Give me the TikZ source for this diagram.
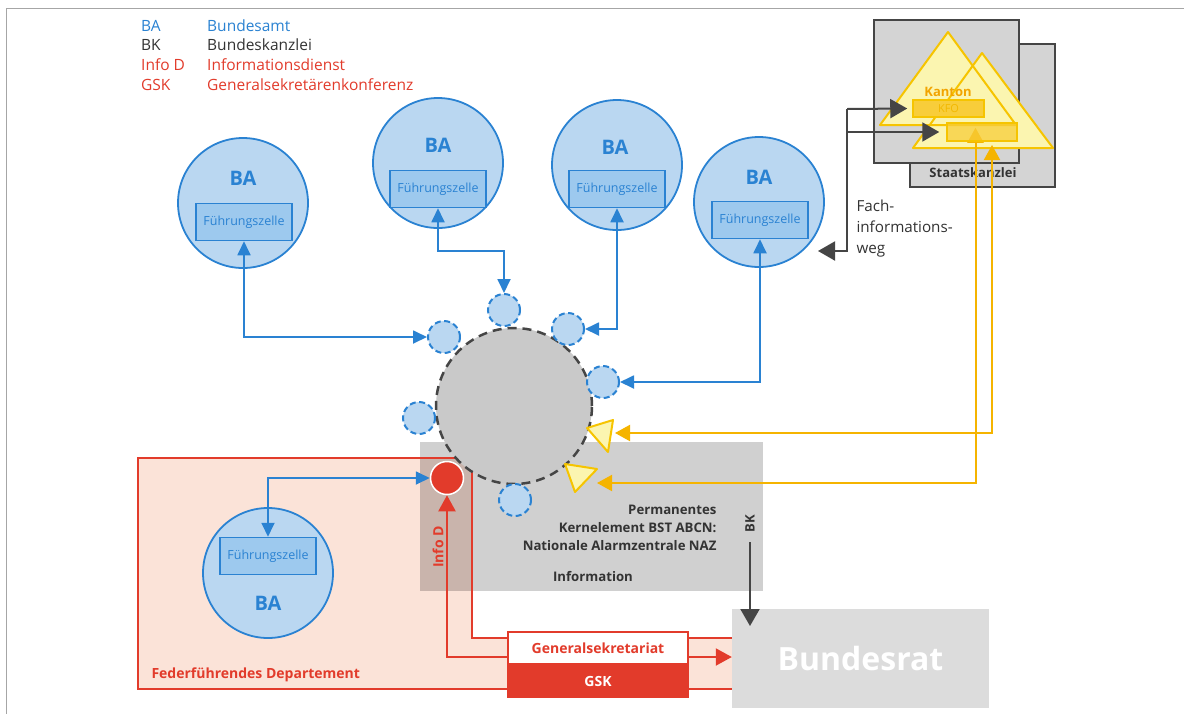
\documentclass[tikz,border=0pt]{standalone}
\usepackage{fontspec}
\setmainfont{Open Sans}
\usetikzlibrary{arrows.meta}

\definecolor{bablue}{HTML}{2A82D2}
\definecolor{bafill}{HTML}{BAD7F1}
\definecolor{fzfill}{HTML}{9DC9EE}
\definecolor{orangeline}{HTML}{F5B400}
\definecolor{trifill}{HTML}{FBF5B0}
\definecolor{triedge}{HTML}{F6C400}
\definecolor{kfofill}{HTML}{F8CD3A}
\definecolor{kfotext}{HTML}{F2B800}
\definecolor{kantontext}{HTML}{F2A400}
\definecolor{redline}{HTML}{E23B2B}
\definecolor{pinkfill}{HTML}{FBE3D8}
\definecolor{centergray}{HTML}{C9C9C9}
\definecolor{infogray}{HTML}{D0D0D0}
\definecolor{overlapgray}{HTML}{C9B4AC}
\definecolor{bratgray}{HTML}{DCDCDC}
\definecolor{skgray}{HTML}{D4D4D4}
\definecolor{darkline}{HTML}{454545}
\definecolor{texgray}{HTML}{333333}

\tikzset{
  bacirc/.style={circle,draw=bablue,line width=1.8pt,fill=bafill,minimum size=130pt,inner sep=0pt},
  fzbox/.style={draw=bablue,line width=1.5pt,fill=fzfill,minimum width=96pt,minimum height=37pt,
    inner sep=0pt,text=bablue,font=\fontsize{12.5}{14}\selectfont},
  batext/.style={text=bablue,font=\fontsize{20}{24}\selectfont\bfseries},
  smallcirc/.style={circle,draw=bablue,line width=2pt,dash pattern=on 6pt off 3.5pt,fill=bafill,
    minimum size=32pt,inner sep=0pt},
  bluearr/.style={draw=bablue,line width=1.8pt,{Triangle[length=14pt,width=13pt]}-{Triangle[length=14pt,width=13pt]}},
  orangearr/.style={draw=orangeline,line width=2pt,{Triangle[length=15pt,width=16pt]}-{Triangle[length=15pt,width=16pt]}},
  darkarr/.style={draw=darkline,line width=2pt,-{Triangle[length=17pt,width=19pt]}},
  redarr/.style={draw=redline,line width=2pt,-{Triangle[length=16pt,width=17pt]}},
  yellowtri/.style={fill=trifill,draw=triedge,line width=2pt,line join=round},
  legend/.style={anchor=base west,inner sep=0pt,font=\fontsize{15.5}{17}\selectfont},
  graytext/.style={text=texgray,font=\fontsize{13.2}{18}\selectfont\bfseries}
}

\begin{document}
\begin{tikzpicture}[x=1pt,y=-1pt]
  \useasboundingbox (0,0) rectangle (1184,713);
  \fill[white] (0,0) rectangle (1184,713);
  % Frame
  \draw[gray!70,line width=1pt] (6,720) -- (6,8) -- (1190,8);

  % Legend
  \node[legend,text=bablue] (lba) at (141,31) {BA};
  \node[legend,text=bablue] (lbat) at (207,31) {Bundesamt};
  \node[legend,text=texgray] (lbk) at (141,50) {BK};
  \node[legend,text=texgray] (lbkt) at (207,50) {Bundeskanzlei};
  \node[legend,text=redline] (lid) at (141,70) {Info D};
  \node[legend,text=redline] (lidt) at (207,70) {Informationsdienst};
  \node[legend,text=redline] (lgsk) at (141,90) {GSK};
  \node[legend,text=redline] (lgskt) at (207,90) {Generalsekretärenkonferenz};

  % Information area and Federfuehrendes Departement
  \fill[infogray] (420,442) rectangle (763,591);
  \fill[pinkfill] (138,458) -- (472,458) -- (472,638) -- (733,638) -- (733,689) -- (138,689) -- cycle;
  \fill[overlapgray] (420,458) rectangle (472,591);
  \draw[redline,line width=2pt] (733,638) -- (472,638) -- (472,458) -- (138,458) -- (138,689) -- (733,689);
  \node[text=redline,font=\fontsize{14}{16}\selectfont\bfseries,anchor=west] (fdep) at (148,675) {Federführendes Departement};
  \node[text=redline,font=\fontsize{14}{16}\selectfont\bfseries,rotate=90] (infod) at (438,547) {Info D};
  \node[graytext,align=right,anchor=east] (naz) at (720,528) {Permanentes\\Kernelement BST ABCN:\\Nationale Alarmzentrale NAZ};
  \node[graytext] (info) at (593,577) {Information};

  % Central circle
  \node[circle,fill=centergray,draw=darkline,line width=2.5pt,dash pattern=on 9pt off 6pt,
    minimum size=156pt] (naz0) at (514,406) {};

  % Small circles
  \node[smallcirc] (sa) at (444,337) {};
  \node[smallcirc] (sb) at (504,310) {};
  \node[smallcirc] (sc) at (568,329) {};
  \node[smallcirc] (sd) at (603,382) {};
  \node[smallcirc] (se) at (419,418) {};
  \node[smallcirc] (sf) at (515,500) {};
  \node[circle,fill=redline,draw=white,line width=1.5pt,minimum size=33pt] (redc) at (447,478) {};

  % Yellow triangles
  \draw[yellowtri] (587,428) -- (613,420) -- (608,452) -- cycle;
  \draw[yellowtri] (565,464) -- (597,469) -- (575,492) -- cycle;
  \coordinate (t1) at (615,433);
  \coordinate (t2) at (597,483);

  % BA circles
  \node[bacirc] (ba1) at (243,203) {};
  \node[batext] at (243,178) {BA};
  \node[fzbox] (fz1) at (244,222) {Führungszelle};

  \node[bacirc] (ba2) at (438,163) {};
  \node[batext] at (438,145) {BA};
  \node[fzbox] (fz2) at (438,189) {Führungszelle};

  \node[bacirc] (ba3) at (617,165) {};
  \node[batext] at (615,147) {BA};
  \node[fzbox] (fz3) at (617,189) {Führungszelle};

  \node[bacirc] (ba4) at (759,202) {};
  \node[batext] at (759,177) {BA};
  \node[fzbox] (fz4) at (760,220) {Führungszelle};

  \node[bacirc] (ba5) at (268,573) {};
  \node[batext] at (268,603) {BA};
  \node[fzbox] (fz5) at (268,556) {Führungszelle};

  % Blue connectors
  \draw[bluearr] (fz1.south) |- (sa.west);
  \draw[bluearr] (fz2.south) -- ++(0,43) -| (sb.north);
  \draw[bluearr] (fz3.south) |- (sc.east);
  \draw[bluearr] (fz4.south) |- (sd.east);
  \draw[bluearr] (fz5.north) |- (redc.west);

  % Generalsekretariat, GSK, Bundesrat
  \node[draw=redline,line width=2pt,fill=white,minimum width=180pt,minimum height=32pt,
    text=redline,font=\fontsize{14}{16}\selectfont\bfseries] (gen) at (598,648) {Generalsekretariat};
  \node[fill=redline,minimum width=182pt,minimum height=33pt,text=white,
    font=\fontsize{14}{16}\selectfont\bfseries] (gsk) at (598,681) {GSK};
  \node[fill=bratgray,minimum width=257pt,minimum height=99pt,text=white,
    font=\fontsize{32}{36}\selectfont\bfseries] (brat) at (860.5,658.5) {Bundesrat};

  % Red connectors
  \draw[redarr] ([yshift=-9pt]gen.west) -| (redc.south);
  \draw[redarr] ([yshift=-9pt]gen.east) -- ([yshift=-9pt]gen.east -| brat.west);

  % BK
  \node[text=texgray,font=\fontsize{13}{15}\selectfont\bfseries,rotate=90] (bk) at (750,524) {BK};
  \coordinate (bktip) at (750,626);
  \draw[darkarr] ([yshift=-6pt]bk.west) -- (bktip);

  % Kanton / Staatskanzlei
  \draw[darkline,line width=2pt,fill=skgray] (910,44) rectangle (1055,187);
  \draw[darkline,line width=2pt,fill=skgray] (874,20) rectangle (1019,163);
  \node[text=texgray,font=\fontsize{13}{15}\selectfont\bfseries] (sk) at (973,173) {Staatskanzlei};
  \fill[trifill] (982,53) -- (913,148) -- (1053,148) -- cycle;
  \fill[trifill] (948,32) -- (880,125) -- (1016,125) -- cycle;
  \draw[triedge,line width=2pt,line join=round] (982,53) -- (913,148) -- (1053,148) -- cycle;
  \draw[triedge,line width=2pt,line join=round] (948,32) -- (880,125) -- (1016,125) -- cycle;
  \node[text=kantontext,font=\fontsize{13}{15}\selectfont\bfseries] (kanton) at (948,92) {Kanton};
  \node[draw=triedge,line width=1.5pt,fill=kfofill,minimum width=71pt,minimum height=17pt,inner sep=0pt,
    text=kfotext,font=\fontsize{11}{12}\selectfont] (kfo) at (948.5,108.5) {KFO};
  \coordinate (kfo2pos) at (982,132);

  % Orange connectors
  \draw[orangearr] (t1) -| ([xshift=10pt,yshift=-13pt]kfo2pos);
  \draw[orangearr] (t2) -| ([xshift=27pt,yshift=-10pt]kfo.south);

  % second KFO box
  \node[draw=triedge,line width=1.5pt,fill=kfofill,fill opacity=0.75,minimum width=70pt,minimum height=18pt,
    inner sep=0pt] (kfo2) at (kfo2pos) {};

  % Fachinformationsweg
  \coordinate (fwa) at (847,109);
  \coordinate (fwb) at (847,132);
  \coordinate (fwc) at (847,251);
  \coordinate (fwend) at (818,251);
  \draw[darkarr] (fwa) -- (fwc) -- (fwend);
  \draw[darkarr] (fwa) -- ([xshift=-5pt]kfo.west);
  \draw[darkarr] (fwb) -- ([xshift=-7pt]kfo2.west);
  \node[text=texgray,font=\fontsize{15.2}{21}\selectfont,align=left,anchor=west] (fachweg) at (853,229)
    {Fach-\\informations-\\weg};
\end{tikzpicture}
\end{document}
